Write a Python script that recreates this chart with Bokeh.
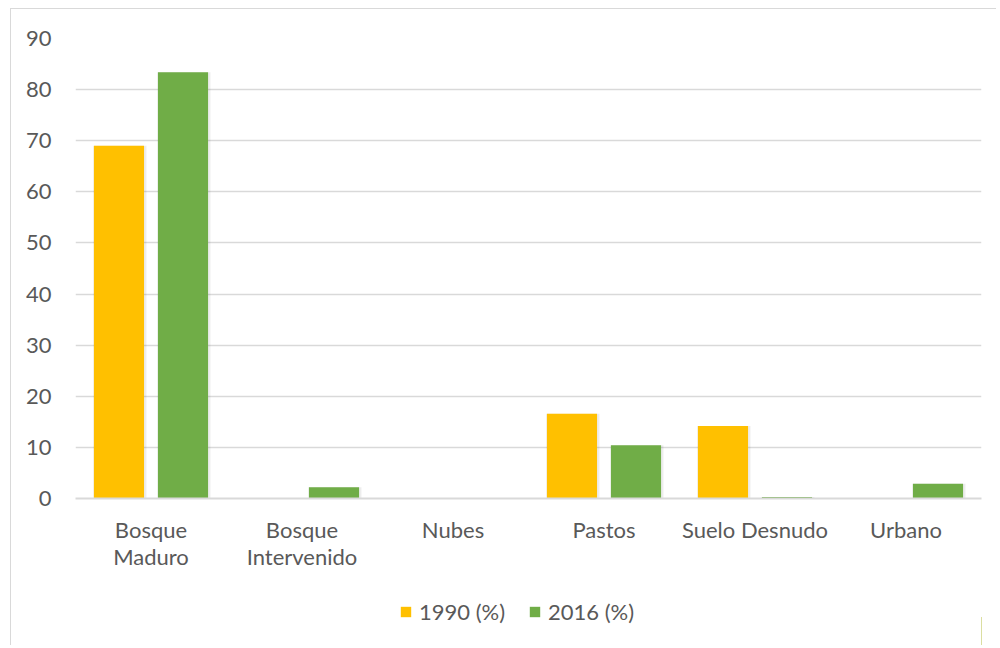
from bokeh.plotting import figure
from bokeh.layouts import column
from bokeh.models import Range1d, Legend, LegendItem, FixedTicker, ColumnDataSource
from bokeh.transform import dodge
from bokeh.embed import file_html
from bokeh.resources import INLINE

categories = ["Bosque Maduro", "Bosque Intervenido", "Nubes", "Pastos", "Suelo Desnudo", "Urbano"]
axis_labels = ["Bosque\nMaduro", "Bosque\nIntervenido", "Nubes", "Pastos", "Suelo Desnudo", "Urbano"]
values_1990 = [69.0, 0.0, 0.0, 16.6, 14.2, 0.0]
values_2016 = [83.4, 2.2, 0.0, 10.4, 0.3, 2.9]
series_names = ["1990 (%)", "2016 (%)"]
series_colors = ["#FFC000", "#70AD47"]
y_ticks = [0, 10, 20, 30, 40, 50, 60, 70, 80, 90]

FONT = "Lato"
TXT = "#595959"
FS = "22px"
W = 985
H_MAIN = 579
H_LEG = 57

xc = [i + 0.5 for i in range(len(categories))]
src = ColumnDataSource(dict(cat=categories, x=xc, v1990=values_1990, v2016=values_2016))

p = figure(x_range=Range1d(0, len(categories)), y_range=Range1d(0, 90),
           width=W, height=H_MAIN, output_backend="svg", toolbar_location=None,
           min_border_left=64, min_border_right=15, min_border_top=29, min_border_bottom=90)
p.outline_line_color = None
p.background_fill_color = "white"
p.border_fill_color = "white"

bw = 0.332
off = 0.212
# soft shadows
for col, o in (("v1990", -off), ("v2016", off)):
    p.vbar(x=dodge("x", o + 0.006), top=col, width=bw + 0.02, source=src,
           fill_color="#000000", fill_alpha=0.07, line_color=None)
r1 = p.vbar(x=dodge("x", -off), top="v1990", width=bw, source=src,
            fill_color=series_colors[0], line_color=None)
r2 = p.vbar(x=dodge("x", off), top="v2016", width=bw, source=src,
            fill_color=series_colors[1], line_color=None)

p.xgrid.grid_line_color = None
p.ygrid.grid_line_color = "#d9d9d9"
p.ygrid.grid_line_width = 1.3

p.yaxis.ticker = FixedTicker(ticks=y_ticks)
p.yaxis.axis_line_color = None
p.yaxis.major_tick_line_color = None
p.yaxis.minor_tick_line_color = None
p.yaxis.major_tick_out = 0
p.yaxis.major_label_standoff = 24
p.yaxis.major_label_text_font = FONT
p.yaxis.major_label_text_font_size = FS
p.yaxis.major_label_text_color = TXT

p.xaxis.ticker = FixedTicker(ticks=xc, minor_ticks=[])
p.xaxis.axis_line_color = "#d9d9d9"
p.xaxis.axis_line_width = 2
p.xaxis.major_tick_line_color = None
p.xaxis.minor_tick_line_color = None
p.xaxis.major_tick_out = 0
p.xaxis.major_label_standoff = 17
p.xaxis.major_label_text_font = FONT
p.xaxis.major_label_text_font_size = FS
p.xaxis.major_label_text_line_height = 1.0
p.xaxis.major_label_text_color = TXT
p.xaxis.major_label_overrides = {x: lab for x, lab in zip(xc, axis_labels)}

# legend strip (separate figure so the legend is not clipped)
pl = figure(x_range=Range1d(0, 1), y_range=Range1d(0, 1), width=W, height=H_LEG,
            output_backend="svg", toolbar_location=None,
            x_axis_type=None, y_axis_type=None,
            min_border_left=64, min_border_right=15, min_border_top=0, min_border_bottom=0)
pl.outline_line_color = None
pl.background_fill_color = "white"
pl.border_fill_color = "white"
# keys only: one item each, kept outside the visible range, used for the legend swatches
key_src = ColumnDataSource(dict(x=[5.0], top=[0.5]))
l1 = pl.vbar(x="x", top="top", width=0.01, source=key_src, fill_color=series_colors[0], line_color=None)
l2 = pl.vbar(x="x", top="top", width=0.01, source=key_src, fill_color=series_colors[1], line_color=None)

legend = Legend(items=[LegendItem(label=series_names[0], renderers=[l1]),
                       LegendItem(label=series_names[1], renderers=[l2])],
                orientation="horizontal", location=(324, 20))
legend.border_line_color = None
legend.background_fill_alpha = 0
legend.label_text_font = FONT
legend.label_text_font_size = FS
legend.label_text_color = TXT
legend.glyph_width = 13
legend.glyph_height = 13
legend.spacing = 23
legend.label_standoff = 7
legend.padding = 0
legend.margin = 0
pl.add_layout(legend, "center")

layout = column(p, pl, spacing=0)
layout.styles = {"border-left": "1px solid #d9d9d9", "border-top": "1px solid #d9d9d9",
                 "margin-left": "10px", "margin-top": "8px"}

open("out.html", "w").write(file_html(layout, INLINE))
